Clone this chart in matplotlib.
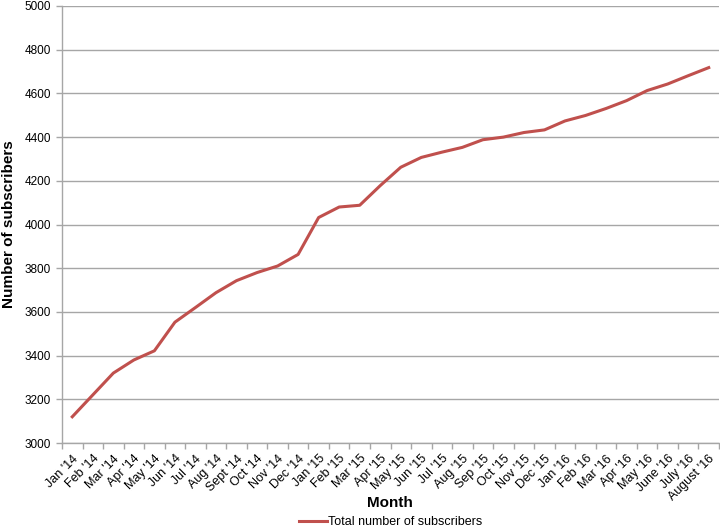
import matplotlib
matplotlib.use("Agg")
import matplotlib.pyplot as plt
import numpy as np
from matplotlib.ticker import FixedLocator

plt.rcParams['font.family'] = ['Liberation Sans', 'DejaVu Sans']

months = ["Jan '14", "Feb '14", "Mar '14", "Apr '14", "May '14", "Jun '14", "Jul '14",
          "Aug '14", "Sept '14", "Oct '14", "Nov '14", "Dec '14", "Jan '15", "Feb '15",
          "Mar '15", "Apr '15", "May '15", "Jun '15", "Jul '15", "Aug '15", "Sep '15",
          "Oct '15", "Nov '15", "Dec '15", "Jan '16", "Feb '16", "Mar '16", "Apr '16",
          "May '16", "June '16", "July '16", "August '16"]
subscribers = [3120, 3220, 3320, 3380, 3422, 3553, 3620, 3688, 3743, 3780, 3810, 3863,
               4032, 4080, 4088, 4178, 4262, 4307, 4331, 4353, 4388, 4400, 4421, 4433,
               4474, 4499, 4531, 4567, 4613, 4643, 4681, 4718]
yticks = list(range(3000, 5001, 200))

fig = plt.figure(figsize=(7.2, 5.3), dpi=100)
ax = fig.add_axes([62/720, 1-443/530, (719-62)/720, (443-6)/530])

x = np.arange(len(months))
ax.plot(x, subscribers, color='#c0504d', lw=2.2, label='Total number of subscribers',
        solid_joinstyle='round', zorder=3)

ax.set_xlim(-0.5, len(months)-0.5)
ax.set_ylim(3000, 5000)
ax.set_yticks(yticks)
ax.set_yticklabels([str(v) for v in yticks], fontsize=8.5)
ax.yaxis.grid(True, color='#a6a6a6', lw=1)
ax.set_axisbelow(True)

ax.set_xticks(x)
ax.set_xticklabels(months, rotation=45, ha='right', rotation_mode='anchor', fontsize=9)
ax.tick_params(axis='x', which='major', length=0, pad=7)
ax.xaxis.set_minor_locator(FixedLocator(np.arange(-0.5, len(months), 1.0)))
ax.tick_params(axis='x', which='minor', length=4, color='#a6a6a6', width=1)
ax.tick_params(axis='y', length=4, color='#a6a6a6', width=1, pad=4)

for s in ['top', 'right']:
    ax.spines[s].set_visible(False)
for s in ['left', 'bottom']:
    ax.spines[s].set_color('#a6a6a6')
    ax.spines[s].set_linewidth(1)

fig.text(390/720, 1-503/530, 'Month', fontsize=11, fontweight='bold', ha='center', va='center')
ax.set_ylabel('Number of subscribers', fontsize=11, fontweight='bold', labelpad=6)

fig.legend(loc='center', bbox_to_anchor=(391/720, 1-522/530), frameon=False, fontsize=9,
           handlelength=2.2, handletextpad=0.1, borderpad=0, borderaxespad=0)

fig.savefig('out.png', dpi=100)
